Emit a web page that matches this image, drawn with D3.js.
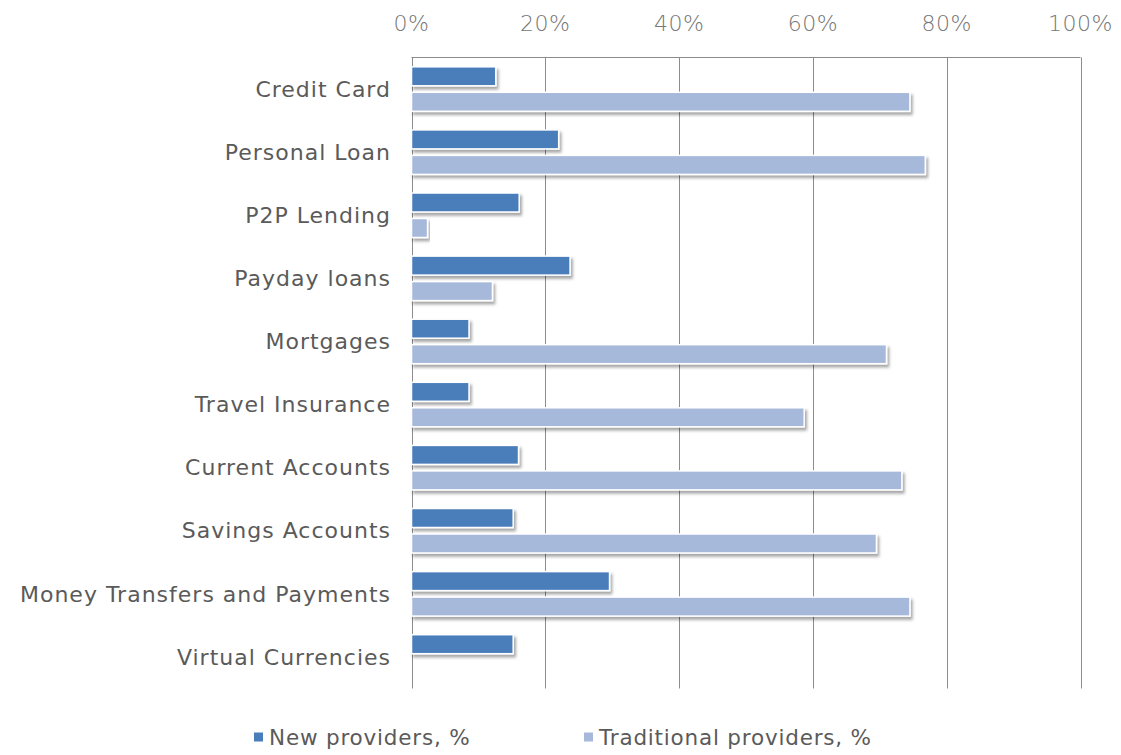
<!DOCTYPE html>
<html>
<head>
<meta charset="utf-8">
<script src="https://cdn.jsdelivr.net/npm/d3@7"></script>
<style>
  html, body { margin: 0; padding: 0; background: #ffffff; }
  svg { display: block; }
  text { font-family: "DejaVu Sans", Verdana, sans-serif; }
</style>
</head>
<body>
<svg id="chart" width="1121" height="755"></svg>
<script>
// ---- data ----
const categories = ["Credit Card", "Personal Loan", "P2P Lending", "Payday loans", "Mortgages",
  "Travel Insurance", "Current Accounts", "Savings Accounts", "Money Transfers and Payments", "Virtual Currencies"];
const newProviders = [12.6, 22.0, 16.1, 23.7, 8.6, 8.6, 16.0, 15.2, 29.6, 15.2];
const traditionalProviders = [74.5, 76.8, 2.4, 12.1, 71.0, 58.7, 73.3, 69.5, 74.5, 0];
const seriesNames = ["New providers, %", "Traditional providers, %"];
const tickValues = [0, 20, 40, 60, 80, 100];

// ---- layout ----
const svg = d3.select("#chart");
const margin = { left: 411.5, right: 1080.5, top: 57.5, bottom: 688.5 };
const colors = ["#4a7ebb", "#a7b9da"];

const x = d3.scaleLinear().domain([0, 100]).range([margin.left, margin.right]);
const y = d3.scaleBand().domain(categories).range([margin.top, margin.bottom]).padding(0);
const ySub = d3.scaleBand().domain(seriesNames).range([0, y.bandwidth()])
  .paddingInner(0.255).paddingOuter(0.365);

const defs = svg.append("defs");
const f = defs.append("filter").attr("id", "shadow").attr("x", "-5%").attr("y", "-30%")
  .attr("width", "115%").attr("height", "180%");
f.append("feDropShadow").attr("dx", 2).attr("dy", 3).attr("stdDeviation", 1.8)
  .attr("flood-color", "#000").attr("flood-opacity", 0.35);

// gridlines
svg.append("g").selectAll("line").data(tickValues).join("line")
  .attr("x1", d => Math.round(x(d)) + 0.5).attr("x2", d => Math.round(x(d)) + 0.5)
  .attr("y1", margin.top).attr("y2", margin.bottom)
  .attr("stroke", "#8c8c8c").attr("stroke-width", 1);
// top axis line
svg.append("line").attr("x1", x(0)).attr("x2", x(100))
  .attr("y1", margin.top).attr("y2", margin.top)
  .attr("stroke", "#8c8c8c").attr("stroke-width", 1);

// tick labels
svg.append("g").selectAll("text").data(tickValues).join("text")
  .attr("x", d => x(d)).attr("y", 23.5).attr("dy", "0.35em")
  .attr("text-anchor", "middle").attr("fill", "#767676")
  .attr("font-size", 22).attr("font-weight", 200).attr("letter-spacing", 0.5)
  .text(d => d + "%");

// category labels
svg.append("g").selectAll("text").data(categories).join("text")
  .attr("x", 391).attr("y", d => y(d) + y.bandwidth() / 2).attr("dy", "0.35em")
  .attr("text-anchor", "end").attr("fill", "#5a5a5a")
  .attr("font-size", 22).attr("letter-spacing", 1).text(d => d);

// bars
const rows = categories.map((c, i) => ({ c, vals: [newProviders[i], traditionalProviders[i]] }));
const g = svg.append("g");
rows.forEach(r => {
  r.vals.forEach((v, j) => {
    if (v <= 0) return;
    g.append("rect")
      .attr("x", x(0))
      .attr("y", y(r.c) + ySub(seriesNames[j]))
      .attr("width", x(v) - x(0))
      .attr("height", ySub.bandwidth())
      .attr("fill", colors[j])
      .attr("stroke", "#ffffff").attr("stroke-width", 1.5)
      .attr("filter", "url(#shadow)");
  });
});

// legend
const legendX = [254, 584];
const lg = svg.append("g").selectAll("g").data(seriesNames).join("g")
  .attr("transform", (d, i) => `translate(${legendX[i]},737)`);
lg.append("rect").attr("x", 0).attr("y", -4.5).attr("width", 9).attr("height", 9)
  .attr("fill", (d, i) => colors[i]);
lg.append("text").attr("x", 15).attr("y", 0).attr("dy", "0.35em")
  .attr("fill", "#5a5a5a").attr("font-size", 21.5).attr("letter-spacing", 0.8).text(d => d);
</script>
</body>
</html>
